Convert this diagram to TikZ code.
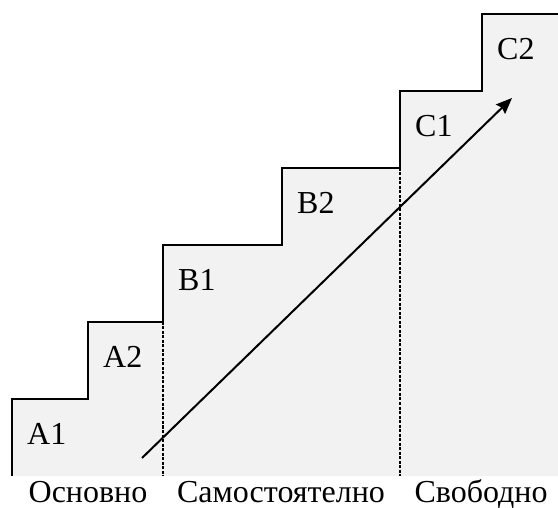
\documentclass[tikz,border=0pt]{standalone}
\usepackage{fontspec}
\setmainfont{Liberation Serif}
\usetikzlibrary{arrows.meta}
\definecolor{stepgray}{HTML}{F2F2F2}
\tikzset{
	steplabel/.style={anchor=base west, inner sep=0pt, font=\fontsize{32}{32}\selectfont},
	levellabel/.style={anchor=base, inner sep=0pt, font=\fontsize{32}{32}\selectfont},
	stepline/.style={line width=2pt},
	levelline/.style={line width=2pt, dash pattern=on 3pt off 1.5pt}
}
\begin{document}
\begin{tikzpicture}[x=1pt,y=-1pt]
		\useasboundingbox (0,0) rectangle (558,508);
		\fill[stepgray] (12,476) -- (12,399) -- (88,399) -- (88,322) -- (163,322) -- (163,245) -- (282,245) -- (282,168)
			-- (400,168) -- (400,91) -- (482,91) -- (482,14) -- (558,14) -- (558,476) -- cycle;
		\draw[stepline] (12,476) -- (12,399) -- (88,399) -- (88,322) -- (163,322) -- (163,245) -- (282,245) -- (282,168)
			-- (400,168) -- (400,91) -- (482,91) -- (482,14) -- (558,14);
		\draw[levelline] (163,322) -- (163,476);
		\draw[levelline] (400,168) -- (400,476);
		\foreach \x/\y/\t in {12/399/A1, 88/322/A2, 163/245/B1, 282/168/B2, 400/91/C1, 482/14/C2}
			\node[steplabel] (\t) at (\x+15,\y+46) {\t};
		\coordinate (start) at (142,458);
		\coordinate (goal) at (512,98);
		\draw[line width=2pt, -{Stealth[length=16pt,width=13pt,inset=2pt]}] (start) -- (goal);
		\node[levellabel] (basic) at (88,503) {Основно};
		\node[levellabel] (independent) at (281,503) {Самостоятелно};
		\node[levellabel] (proficient) at (481,503) {Свободно};
	\end{tikzpicture}
\end{document}
